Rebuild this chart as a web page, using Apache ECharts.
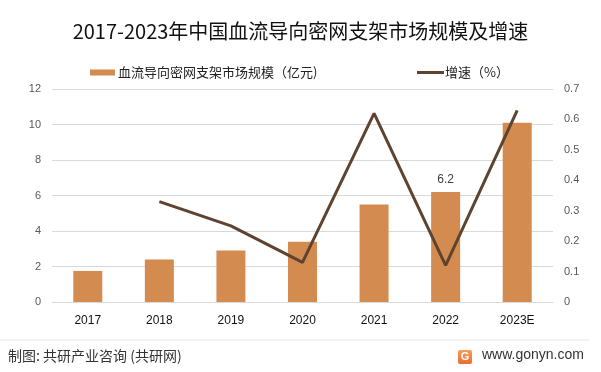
<!DOCTYPE html>
<html><head><meta charset="utf-8">
<script src="https://cdn.jsdelivr.net/npm/echarts@6/dist/echarts.min.js"></script>
<style>html,body{margin:0;padding:0;background:#fff}#c{width:601px;height:372px}</style>
</head><body><div id="c"></div>
<script>
const categories = ['2017','2018','2019','2020','2021','2022','2023E'];
const marketSize = [1.75, 2.4, 2.9, 3.4, 5.5, 6.2, 10.1];
const growth = [null, 0.33, 0.25, 0.13, 0.62, 0.12, 0.63];
const leftTicks = [0, 12, 2];
const rightTicks = [0, 0.7, 0.1];
const labelledIndex = 5;

const chart = echarts.init(document.getElementById('c'), null, {renderer:'canvas'});
const font = '"Microsoft YaHei","Noto Sans CJK SC",sans-serif';
const barName = '血流导向密网支架市场规模（亿元)';
const lineName = '增速（%）';
chart.setOption({
  backgroundColor:'#fff',
  animation:false,
  title:{text:'2017-2023年中国血流导向密网支架市场规模及增速',left:'center',top:16,
    textStyle:{fontSize:20,fontWeight:'normal',color:'#111',fontFamily:font}},
  legend:[
    {top:66,left:90,itemWidth:25,itemHeight:6,padding:0,itemGap:0,
     textStyle:{fontSize:13,color:'#222',fontFamily:font,padding:[0,0,0,-2]},
     data:[{name:barName,icon:'rect'}]},
    {top:66,left:417,itemWidth:27,itemHeight:3,padding:0,itemGap:0,
     textStyle:{fontSize:13,color:'#222',fontFamily:font,padding:[0,0,0,-4]},
     data:[{name:lineName,icon:'rect'}]}
  ],
  grid:{left:52,right:48,top:89,bottom:70},
  xAxis:{type:'category',data:categories,
    axisLine:{lineStyle:{color:'#d9d9d9'}},axisTick:{show:false},
    axisLabel:{color:'#111',fontSize:12,margin:13,fontFamily:'"Liberation Sans",sans-serif'}},
  yAxis:[
    {type:'value',min:leftTicks[0],max:leftTicks[1],interval:leftTicks[2],
     axisLine:{show:false},axisTick:{show:false},
     axisLabel:{color:'#595959',fontSize:11,margin:11},
     splitLine:{lineStyle:{color:'#d9d9d9'}}},
    {type:'value',min:rightTicks[0],max:rightTicks[1],interval:rightTicks[2],
     axisLine:{show:false},axisTick:{show:false},
     axisLabel:{color:'#595959',fontSize:11,margin:11},
     splitLine:{show:false}}
  ],
  series:[
    {name:barName,type:'bar',data:marketSize.map((v,i)=>({value:v,label:{show:i===labelledIndex}})),
     barWidth:29,itemStyle:{color:'#D38B4F'},
     label:{position:'top',distance:6,color:'#404040',fontSize:12}},
    {name:lineName,type:'line',yAxisIndex:1,data:growth,showSymbol:false,symbol:'none',
     lineStyle:{color:'#5E4330',width:3},itemStyle:{color:'#5E4330'}}
  ],
  graphic:[
    {type:'line',shape:{x1:0,y1:340,x2:590,y2:340},style:{stroke:'#e8e8e8',lineWidth:1}},
    {type:'text',left:8,top:349,style:{text:'制图: 共研产业咨询 (共研网)',fill:'#333',font:'14px '+font}},
    {type:'rect',shape:{x:458,y:350,width:14,height:14,r:2},
     style:{fill:new echarts.graphic.LinearGradient(0,0,0,1,[{offset:0,color:'#F5A05A'},{offset:1,color:'#EE6A2C'}])}},
    {type:'text',x:465,y:357,style:{text:'G',fill:'#fff',align:'center',verticalAlign:'middle',font:'bold 11px "Liberation Sans",sans-serif'}},
    {type:'text',left:482,top:348,style:{text:'www.gonyn.com',fill:'#333',font:'14px "Liberation Sans",sans-serif'}}
  ]
});
</script></body></html>
